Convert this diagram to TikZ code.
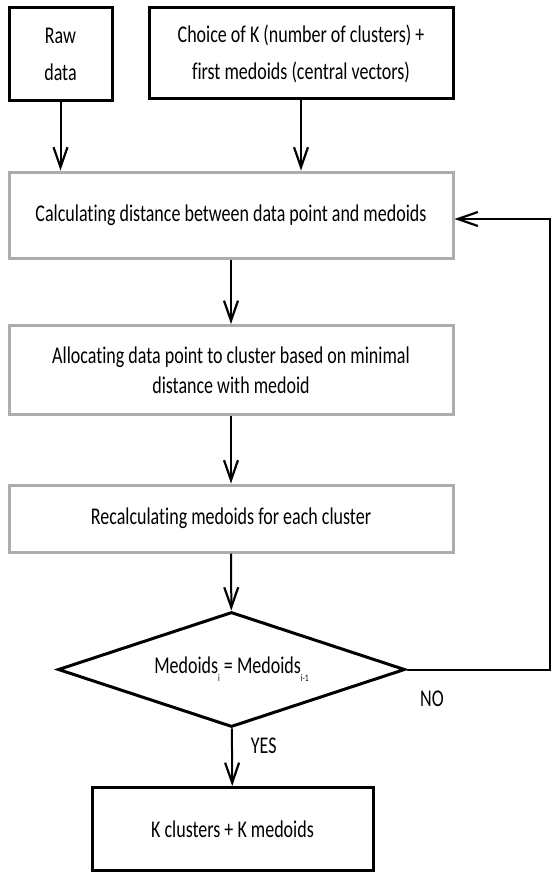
\documentclass[tikz,border=0pt]{standalone}
\usepackage{fontspec}
\setmainfont{Carlito}[FakeStretch=0.75,Ligatures=NoCommon]
\usetikzlibrary{arrows.meta,shapes.geometric}

\begin{document}
\begin{tikzpicture}[x=1pt,y=-1pt,
            every node/.style={inner sep=0pt,align=center,font=\fontsize{24}{28}\selectfont},
            blackbox/.style={draw,line width=3pt,minimum width=#1},
            graybox/.style={draw=black!32,line width=3pt,minimum width=444pt},
            >={Straight Barb[length=20pt,width=14pt,line width=2.2pt]}]
            \useasboundingbox (0,0) rectangle (554,872);
            \node[blackbox=103pt,minimum height=93pt](raw) at (60.5,54.5){Raw\\[9pt]data};
            \node[blackbox=304pt,minimum height=91pt](choice) at (301,53.5){Choice of K (number of clusters) +\\[9pt]first medoids (central vectors)};
            \node[graybox,minimum height=86pt](calc) at (231,215){Calculating distance between data point and medoids};
            \node[graybox,minimum height=89pt](alloc) at (231,370){Allocating data point to cluster based on minimal\\[2pt]distance with medoid};
            \node[graybox,minimum height=67pt](recalc) at (231,518.5){Recalculating medoids for each cluster};
            \node[draw,diamond,line width=3pt,shape aspect=3,minimum width=347pt,minimum height=115pt](test) at (231.5,669.5)
              {Medoids\raisebox{-8pt}{\fontsize{10}{10}\selectfont i} = Medoids\raisebox{-8pt}{\fontsize{10}{10}\selectfont i-1}};
            \node[blackbox=281pt,minimum height=83pt](result) at (232.5,829){K clusters + K medoids};
            \coordinate(loop) at (550,219);
            \draw[->,line width=2pt](raw)--(raw|-calc.north);
            \draw[->,line width=2pt](choice)--(choice|-calc.north);
            \draw[->,line width=2pt](calc)--(alloc);
            \draw[->,line width=2pt](alloc)--(recalc);
            \draw[->,line width=2pt](recalc)--(test);
            \draw[->,line width=2pt](test)--(result)node[pos=0.3,right=18pt]{YES};
            \draw[->,line width=2pt](test.east)-|(loop)--(calc.east|-loop);
            \node(no) at (432,699){NO};
          \end{tikzpicture}
\end{document}
